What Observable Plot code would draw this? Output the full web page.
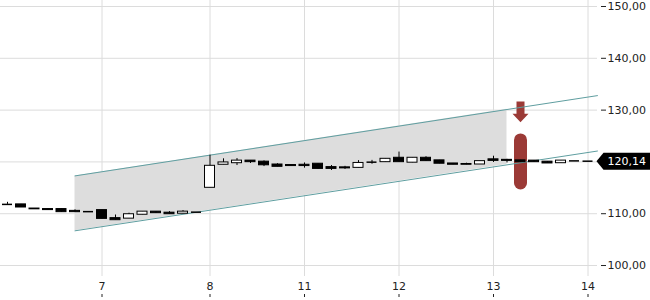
<!DOCTYPE html>
<html><head><meta charset="utf-8">
<script src="https://cdn.jsdelivr.net/npm/d3@7"></script>
<script src="https://cdn.jsdelivr.net/npm/@observablehq/plot@0.6"></script>
<style>body{margin:0;background:#fff;}</style>
</head><body><div id="chart"></div>
<script>
// Candle data (intraday, index-based)
const opens  = [111.8,111.8,111.0,110.9,110.9,110.55,110.4,110.7,109.15,109.05,109.8,110.4,110.2,110.0,110.3,115.0,119.45,119.75,120.25,120.05,119.5,119.4,119.45,119.65,119.0,118.95,118.85,119.95,119.95,120.8,119.85,120.8,120.3,119.7,119.6,119.5,120.5,120.4,120.3,120.25,120.05,119.75,120.2,120.14];
const closes = [111.8,111.2,110.85,110.7,110.3,110.3,110.4,109.0,108.75,109.9,110.4,110.1,109.9,110.4,110.3,119.25,119.9,120.25,119.95,119.35,119.05,119.2,119.2,118.65,118.65,118.75,119.8,119.95,120.6,119.95,120.8,120.15,119.65,119.45,119.45,120.15,120.2,120.2,119.95,119.95,119.7,120.25,120.2,120.14];
const highs  = [112.2,111.8,111.0,110.9,110.9,110.75,110.4,110.7,109.75,110.1,110.4,110.4,110.4,110.6,110.3,121.3,120.6,120.65,120.25,120.2,119.65,119.4,119.8,119.65,119.3,119.15,120.25,120.3,120.6,121.9,120.8,121.0,120.3,119.7,119.75,120.15,121.1,120.5,120.3,120.25,120.05,120.25,120.2,120.14];
const lows   = [111.8,111.2,110.85,110.7,110.3,110.3,110.4,109.0,108.75,109.05,109.8,110.1,109.9,110.0,110.3,115.0,119.45,119.3,119.7,119.1,119.05,119.2,118.8,118.65,118.35,118.55,118.85,119.55,119.95,119.95,119.85,120.15,119.65,119.45,119.45,119.5,119.9,119.8,119.95,119.95,119.7,119.75,120.2,120.14];

const dayTickIndex = [7, 15, 22, 29, 36, 43];
const dayLabels = ["7", "8", "11", "12", "13", "14"];
const yTicks = [100, 110, 120, 130, 140, 150];

// Trend channel
const channelX = [5, 43.7];
const channelUpper = [117.3, 132.8];
const channelLower = [106.7, 122.1];
const shadeX = [5, 37];
const shadeUpper = [117.3, 130.15];
const shadeLower = [106.7, 119.48];

// Signal marker
const markerIndex = 38;
const markerRange = [115.85, 124.15];
const arrowBase = 129.3;
const lastPrice = 120.14;

const candles = opens.map((o, i) => ({i, open: o, close: closes[i], high: highs[i], low: lows[i]}));
const bodies = candles.filter(d => d.open !== d.close);
const dojis = candles.filter(d => d.open === d.close);
const channel = channelX.map((x, k) => ({x, up: channelUpper[k], lo: channelLower[k]}));
const shade = shadeX.map((x, k) => ({x, up: shadeUpper[k], lo: shadeLower[k]}));

const half = 0.37;
const red = "#9b3a36";
const teal = "#5f9ea0";
const fmt = v => v.toFixed(2).replace(".", ",");

const arrowSymbol = {draw(ctx) {
  ctx.moveTo(-4, -12.3); ctx.lineTo(4, -12.3); ctx.lineTo(4, 0); ctx.lineTo(8, 0);
  ctx.lineTo(0, 8.4); ctx.lineTo(-8, 0); ctx.lineTo(-4, 0); ctx.closePath();
}};
const tagSymbol = {draw(ctx) {
  ctx.moveTo(-1, 0); ctx.lineTo(6, -8.5); ctx.lineTo(60, -8.5); ctx.lineTo(60, 8.5); ctx.lineTo(6, 8.5); ctx.closePath();
}};

const chart = Plot.plot({
  width: 650,
  height: 300,
  marginLeft: 0,
  marginRight: 53,
  marginTop: 0,
  marginBottom: 24,
  style: {fontFamily: "DejaVu Sans", fontSize: "11px", background: "#fff", color: "#222"},
  x: {domain: [-7 / 13.5, 590 / 13.5]},
  y: {domain: [97.88, 151.16]},
  marks: [
    Plot.gridY(yTicks, {stroke: "#dcdcdc", strokeOpacity: 1}),
    Plot.gridX(dayTickIndex, {stroke: "#dcdcdc", strokeOpacity: 1}),
    Plot.areaY(shade, {x: "x", y1: "lo", y2: "up", fill: "#dddddd"}),
    Plot.ruleX([markerIndex], {y1: markerRange[0], y2: markerRange[1], stroke: red, strokeWidth: 13, strokeLinecap: "round"}),
    Plot.dot([arrowBase], {x: markerIndex, y: d => d, symbol: arrowSymbol, fill: red, stroke: "none"}),
    Plot.line(channel, {x: "x", y: "up", stroke: teal, strokeWidth: 1}),
    Plot.line(channel, {x: "x", y: "lo", stroke: teal, strokeWidth: 1}),
    Plot.ruleX(candles, {x: "i", y1: "low", y2: "high", stroke: "black", strokeWidth: 1}),
    Plot.rect(bodies, {x1: d => d.i - half, x2: d => d.i + half, y1: "open", y2: "close",
      fill: d => d.close > d.open ? "white" : "black", stroke: "black", strokeWidth: 1}),
    Plot.ruleY(dojis, {y: "open", x1: d => d.i - half, x2: d => d.i + half, stroke: "black", strokeWidth: 1.5}),
    Plot.axisY(yTicks, {anchor: "right", tickSize: 5, dx: 3, tickPadding: 2, tickFormat: fmt, stroke: "#222", fill: "#222"}),
    Plot.axisX(dayTickIndex, {tickSize: 0, tickPadding: 6, tickFormat: d => dayLabels[dayTickIndex.indexOf(d)], fill: "#222"}),
    Plot.axisX(dayTickIndex, {tickSize: 3, dy: 18, tickFormat: () => "", stroke: "#222"}),
    Plot.dot([lastPrice], {y: d => d, frameAnchor: "right", symbol: tagSymbol, fill: "black", stroke: "none"}),
    Plot.text([lastPrice], {y: d => d, frameAnchor: "right", dx: 10, textAnchor: "start", fill: "white", text: d => fmt(d), fontSize: 11})
  ]
});
document.getElementById("chart").appendChild(chart);
</script>
</body></html>
